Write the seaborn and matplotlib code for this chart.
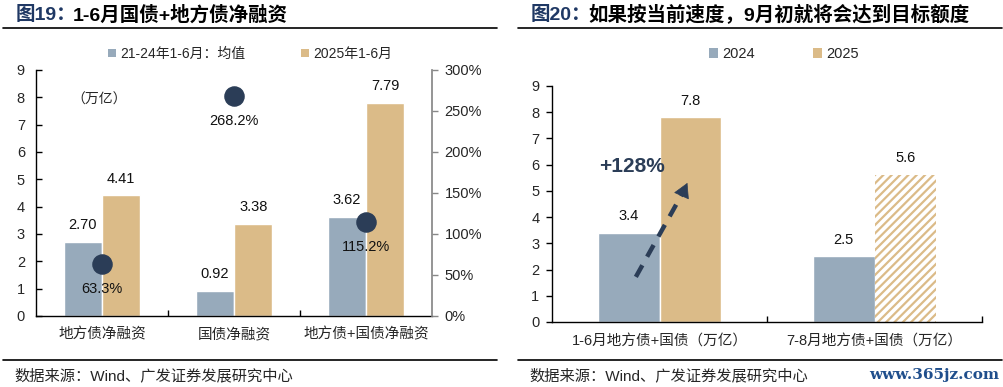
import numpy as np
import pandas as pd
import matplotlib
matplotlib.use("Agg")
import matplotlib.pyplot as plt
import seaborn as sns
from matplotlib.patches import Patch
from matplotlib.lines import Line2D

sns.set_theme(style="white")
plt.rcParams['font.family'] = ['Liberation Sans', 'Noto Sans CJK SC', 'DejaVu Sans']
plt.rcParams['hatch.linewidth'] = 1.6

# ---- data: 图19 ----
cats19 = ['地方债净融资', '国债净融资', '地方债+国债净融资']
avg_21_24 = [2.70, 0.92, 3.62]
val_2025 = [4.41, 3.38, 7.79]
growth_pct = [63.3, 268.2, 115.2]
series19 = ['21-24年1-6月：均值', '2025年1-6月']

# ---- data: 图20 ----
cats20 = ['1-6月地方债+国债（万亿）', '7-8月地方债+国债（万亿）']
val20_2024 = [3.4, 2.5]
val20_2025 = [7.8, 5.6]
series20 = ['2024', '2025']

BLUE = '#97AABB'
TAN = '#DBBB88'
NAVY = '#2B3D57'
TITLE_NAVY = '#1F3864'

df19 = pd.DataFrame({
    'cat': cats19 * 2,
    'series': [series19[0]] * 3 + [series19[1]] * 3,
    'value': avg_21_24 + val_2025,
})
df20 = pd.DataFrame({
    'cat': cats20 * 2,
    'series': [series20[0]] * 2 + [series20[1]] * 2,
    'value': val20_2024 + val20_2025,
})

fig = plt.figure(figsize=(10.04, 3.87), dpi=100)

# ================= left chart =================
ax = fig.add_axes([0.0359, 0.1835, 0.3944, 0.6357])
sns.barplot(data=df19, x='cat', y='value', hue='series', palette=[BLUE, TAN],
            width=0.58, ax=ax, legend=False, saturation=1)
ax.set_xlim(-0.5, 2.5)
ax.set_ylim(0, 9)
ax.set_yticks(range(10))
ax.set_xlabel('')
ax.set_ylabel('')
for c in ax.containers:
    ax.bar_label(c, fmt='%.2f', padding=7, fontsize=10.5, color='#111111')
for s in ['top', 'right']:
    ax.spines[s].set_visible(False)
for s in ['left', 'bottom']:
    ax.spines[s].set_color('black')
    ax.spines[s].set_linewidth(1)
ax.tick_params(axis='y', direction='in', length=4, width=1, color='black',
               labelsize=10.5, pad=8, left=True)
ax.tick_params(axis='x', length=0, labelsize=10.5, pad=8)
ax.set_xticks([0.5, 1.5], minor=True)
ax.tick_params(axis='x', which='minor', direction='in', length=4, width=1,
               color='black', bottom=True)
ax.text(-0.02, 7.9, '（万亿）', fontsize=10, ha='center', va='center')

ax2 = ax.twinx()
ax2.set_ylim(0, 300)
ax2.set_yticks(range(0, 301, 50))
ax2.set_yticklabels([f'{v}%' for v in range(0, 301, 50)])
ax2.scatter(range(3), growth_pct, s=190, color=NAVY, zorder=5)
for i, g in enumerate(growth_pct):
    ax2.annotate(f'{g:.1f}%', (i, g), xytext=(0, -18), textcoords='offset points',
                 ha='center', va='center', fontsize=10.5, color='#111111')
for s in ['top', 'left', 'bottom']:
    ax2.spines[s].set_visible(False)
ax2.spines['right'].set_color('#888888')
ax2.tick_params(axis='y', direction='out', length=4, width=1, color='#888888',
                labelsize=10.5, pad=5, right=True)
ax2.grid(False)

handles19 = [Patch(facecolor=BLUE, edgecolor='none'), Patch(facecolor=TAN, edgecolor='none')]
ax.legend(handles19, series19, loc='center', bbox_to_anchor=(0.54, 1.065), ncol=2,
          frameon=False, fontsize=10, handlelength=0.6, handleheight=0.6,
          handletextpad=0.3, columnspacing=4)

# ================= right chart =================
bx = fig.add_axes([0.5498, 0.168, 0.4283, 0.6098])
sns.barplot(data=df20, x='cat', y='value', hue='series', palette=[BLUE, TAN],
            width=0.57, ax=bx, legend=False, saturation=1)
bx.set_xlim(-0.5, 1.5)
bx.set_ylim(0, 9)
bx.set_yticks(range(10))
bx.set_xlabel('')
bx.set_ylabel('')
hatched = bx.containers[1][1]
hatched.set_facecolor('white')
hatched.set_edgecolor(TAN)
hatched.set_linewidth(0)
hatched.set_hatch('////')
for c in bx.containers:
    bx.bar_label(c, fmt='%.1f', padding=7, fontsize=10.5, color='#111111')
for s in ['top', 'right']:
    bx.spines[s].set_visible(False)
for s in ['left', 'bottom']:
    bx.spines[s].set_color('black')
    bx.spines[s].set_linewidth(1)
bx.tick_params(axis='y', direction='out', length=4, width=1, color='black',
               labelsize=10.5, pad=5, left=True)
bx.tick_params(axis='x', length=0, labelsize=10.5, pad=9)
bx.set_xticks([0.5, 1.5], minor=True)
bx.tick_params(axis='x', which='minor', direction='in', length=4, width=1,
               color='black', bottom=True)

# dashed arrow
x0, y0, x1, y1 = -0.11, 1.72, 0.12, 5.1
bx.plot([x0, x1], [y0, y1], ls=(0, (3, 2.2)), lw=3.2, color=NAVY, zorder=6,
        solid_capstyle='butt', dash_capstyle='butt')
bx.annotate('', xy=(0.135, 5.4), xytext=(0.11, 4.95),
            arrowprops=dict(arrowstyle='-|>,head_width=0.45,head_length=0.8',
                            color=NAVY, lw=0.5), zorder=7)
bx.text(-0.13, 5.92, '+128%', fontsize=15, fontweight='bold', color=NAVY,
        ha='center', va='center', zorder=7)

handles20 = [Patch(facecolor=BLUE, edgecolor='none'), Patch(facecolor=TAN, edgecolor='none')]
bx.legend(handles20, series20, loc='center', bbox_to_anchor=(0.54, 1.135), ncol=2,
          frameon=False, fontsize=10.5, handlelength=0.6, handleheight=0.6,
          handletextpad=0.3, columnspacing=4)

# ================= titles, rules, sources =================
W, H = 1004, 387
def fx(px):
    return px / W
def fy(py):
    return 1 - py / H

fig.text(fx(16), fy(15), '图19：', fontsize=14, fontweight='bold', color=TITLE_NAVY, va='center')
fig.text(fx(73), fy(15), '1-6月国债+地方债净融资', fontsize=14, fontweight='bold', color='black', va='center')
fig.text(fx(531), fy(15), '图20：', fontsize=14, fontweight='bold', color=TITLE_NAVY, va='center')
fig.text(fx(588), fy(15), '如果按当前速度，9月初就将会达到目标额度', fontsize=14,
         fontweight='bold', color='black', va='center')

for (a, b) in [(3, 497), (518, 1002)]:
    fig.add_artist(Line2D([fx(a), fx(b)], [fy(28), fy(28)], color='black', lw=1.2))
    fig.add_artist(Line2D([fx(a), fx(b)], [fy(360), fy(360)], color='black', lw=1.2))

fig.text(fx(14), fy(376), '数据来源：Wind、广发证券发展研究中心', fontsize=11, va='center')
fig.text(fx(529), fy(376), '数据来源：Wind、广发证券发展研究中心', fontsize=11, va='center')
fig.text(fx(999), fy(375), 'www.365jz.com', fontsize=11, fontweight='bold',
         color='#1F4E8C', ha='right', va='center', family=['DejaVu Serif'])

fig.savefig('out.png', dpi=100)
